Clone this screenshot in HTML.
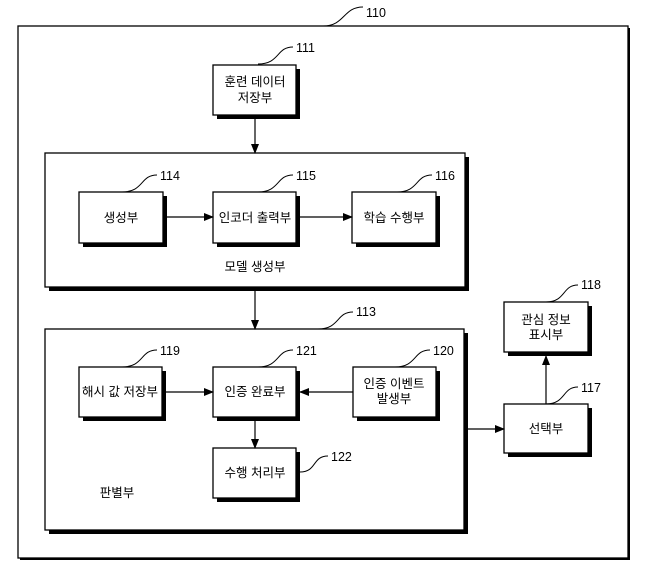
<!DOCTYPE html>
<html><head><meta charset="utf-8"><style>
body{margin:0;background:#fff}
svg{display:block}
text{font-family:"Liberation Sans","Noto Sans CJK KR",sans-serif;font-size:12.5px;fill:#000}
.t{text-anchor:middle}
</style></head><body>
<svg width="658" height="582" viewBox="0 0 658 582">
<defs><marker id="a" markerWidth="10" markerHeight="8" refX="9" refY="4" orient="auto" markerUnits="userSpaceOnUse"><path d="M0,0L10,4L0,8z" fill="#000"/></marker></defs>
<rect x="20" y="28" width="610" height="532" fill="#000"/>
<rect x="18" y="26" width="610" height="532" fill="#fff" stroke="#000" stroke-width="1.3"/>
<g fill="#000">
<rect x="49" y="157" width="420" height="134"/>
<rect x="49" y="333" width="419" height="201"/>
<rect x="217" y="69" width="83" height="50"/>
<rect x="508" y="306" width="84" height="50"/>
<rect x="508" y="408" width="84" height="49"/>
</g>
<g fill="#fff" stroke="#000" stroke-width="1.3">
<rect x="45" y="153" width="420" height="134"/>
<rect x="45" y="329" width="419" height="201"/>
<rect x="213" y="65" width="83" height="50"/>
<rect x="504" y="302" width="84" height="50"/>
<rect x="504" y="404" width="84" height="49"/>
</g>
<g fill="#000">
<rect x="83" y="196" width="84" height="51"/>
<rect x="217" y="196" width="83" height="51"/>
<rect x="356" y="196" width="84" height="51"/>
<rect x="83" y="371" width="83" height="50"/>
<rect x="217" y="371" width="83" height="50"/>
<rect x="357" y="371" width="83" height="50"/>
<rect x="217" y="452" width="83" height="50"/>
</g>
<g fill="#fff" stroke="#000" stroke-width="1.3">
<rect x="79" y="192" width="84" height="51"/>
<rect x="213" y="192" width="83" height="51"/>
<rect x="352" y="192" width="84" height="51"/>
<rect x="79" y="367" width="83" height="50"/>
<rect x="213" y="367" width="83" height="50"/>
<rect x="353" y="367" width="83" height="50"/>
<rect x="213" y="448" width="83" height="50"/>
</g>
<g stroke="#000" stroke-width="1.2" fill="none" marker-end="url(#a)">
<line x1="255" y1="119" x2="255" y2="153"/>
<line x1="167" y1="217" x2="213" y2="217"/>
<line x1="300" y1="217" x2="352" y2="217"/>
<line x1="255" y1="291" x2="255" y2="329"/>
<line x1="166" y1="392" x2="213" y2="392"/>
<line x1="353" y1="392" x2="300" y2="392"/>
<line x1="255" y1="421" x2="255" y2="448"/>
<line x1="468" y1="429" x2="504" y2="429"/>
<line x1="546" y1="404" x2="546" y2="356"/>
</g>
<g stroke="#000" stroke-width="1" fill="none">
<path d="M323,26 C345,26 343,7 363,7"/>
<path d="M258,64 C280,64 276,47 293,47"/>
<path d="M122,192 C144,192 140,175 157,175"/>
<path d="M258,192 C280,192 276,175 293,175"/>
<path d="M397,192 C419,192 415,175 432,175"/>
<path d="M318,329 C340,329 336,312 353,312"/>
<path d="M122,367 C144,367 140,350 157,350"/>
<path d="M258,367 C280,367 276,350 293,350"/>
<path d="M395,367 C417,367 413,350 430,350"/>
<path d="M300,472 C317,472 312,456 328,456"/>
<path d="M546,302 C566,302 562,285 578,285"/>
<path d="M546,404 C566,404 562,387 578,387"/>
</g>
<text x="366" y="17">110</text>
<text x="296" y="52">111</text>
<text x="160" y="180">114</text>
<text x="296" y="180">115</text>
<text x="435" y="180">116</text>
<text x="356" y="316">113</text>
<text x="160" y="355">119</text>
<text x="296" y="355">121</text>
<text x="433" y="355">120</text>
<text x="331" y="461">122</text>
<text x="581" y="289">118</text>
<text x="581" y="392">117</text>
<text class="t" x="255" y="86">훈련 데이터</text>
<text class="t" x="255" y="102">저장부</text>
<text class="t" x="121" y="222">생성부</text>
<text class="t" x="255" y="222">인코더 출력부</text>
<text class="t" x="394" y="222">학습 수행부</text>
<text class="t" x="255" y="271">모델 생성부</text>
<text class="t" x="120" y="396">해시 값 저장부</text>
<text class="t" x="255" y="396">인증 완료부</text>
<text class="t" x="394" y="388">인증 이벤트</text>
<text class="t" x="394" y="403">발생부</text>
<text class="t" x="255" y="477">수행 처리부</text>
<text class="t" x="117" y="497">판별부</text>
<text class="t" x="546" y="324">관심 정보</text>
<text class="t" x="546" y="339">표시부</text>
<text class="t" x="546" y="433">선택부</text>
</svg>
</body></html>
